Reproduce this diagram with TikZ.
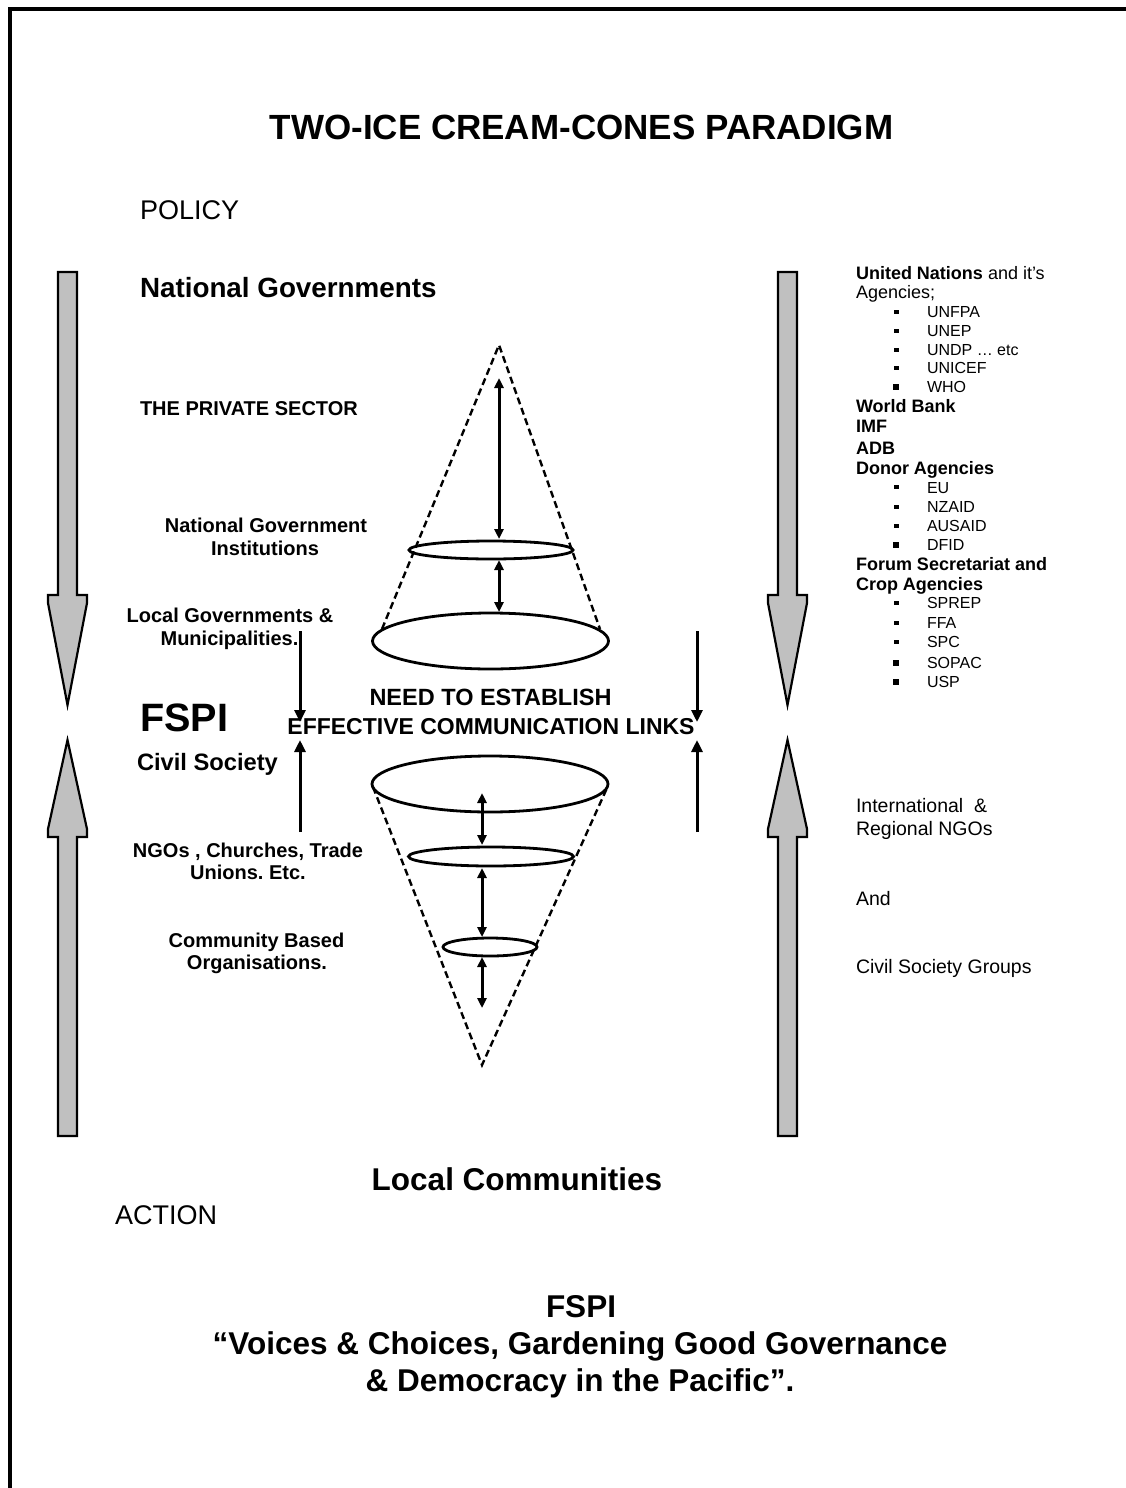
\documentclass[tikz,border=0pt]{standalone}
\usepackage{fontspec}
\setmainfont{Liberation Sans}
\usetikzlibrary{arrows.meta}
\definecolor{arrowgray}{HTML}{C0C0C0}
\frenchspacing

\tikzset{
  txt/.style={inner sep=0pt, outer sep=0pt, anchor=base},
  lbl/.style={txt, font=\fontsize{20}{23}\selectfont\bfseries},
  listbold/.style={txt, anchor=base west, font=\fontsize{18}{20}\selectfont\bfseries},
  listitem/.style={txt, anchor=base west, font=\fontsize{16}{19}\selectfont},
  rightplain/.style={txt, anchor=base west, font=\fontsize{19.5}{22}\selectfont},
  bigarrow/.style={fill=arrowgray, draw=black, line width=2.2pt, line join=miter},
  thinarrow/.style={line width=3pt, -{Triangle[width=11pt,length=12pt]}},
  conearrow/.style={line width=3pt, {Triangle[width=9pt,length=10pt]}-{Triangle[width=9pt,length=10pt]}},
  conedash/.style={line width=2.4pt, dash pattern=on 7pt off 4pt},
  ring/.style={line width=2.8pt},
  bulletsq/.style={fill=black}
}

\begin{document}
\begin{tikzpicture}[x=1pt,y=-1pt]
\useasboundingbox (0,0) rectangle (1126,1488);
\clip (0,0) rectangle (1126,1488);

% page frame (runs past the right and bottom edges)
\draw[line width=3.5pt] (10,9) rectangle (1180,1540);

% ---------- headings ----------
\node[txt, font=\fontsize{35}{40}\selectfont\bfseries] (title) at (581.5,139) {TWO-ICE CREAM-CONES PARADIGM};
\node[txt, anchor=base west, font=\fontsize{27}{30}\selectfont] (policy) at (140,219) {POLICY};
\node[txt, anchor=base west, font=\fontsize{27.8}{32}\selectfont\bfseries] (natgov) at (140,297) {National Governments};

% ---------- left labels ----------
\node[lbl, anchor=base west] (private) at (140,415) {THE PRIVATE SECTOR};
\node[lbl] (ngi1) at (266,532) {National Government};
\node[lbl] (ngi2) at (265,555) {Institutions};
\node[lbl] (lg1) at (230,622) {Local Governments \&};
\node[lbl] (lg2) at (229.5,645) {Municipalities.};
\node[txt, anchor=base west, font=\fontsize{39.6}{44}\selectfont\bfseries] (fspi) at (140,731) {FSPI};
\node[txt, anchor=base west, font=\fontsize{23.7}{27}\selectfont\bfseries] (civil) at (137,770) {Civil Society};
\node[lbl] (ngo1) at (248,857) {NGOs , Churches, Trade};
\node[lbl] (ngo2) at (248,879) {Unions. Etc.};
\node[lbl] (cbo1) at (256.5,947) {Community Based};
\node[lbl] (cbo2) at (257,969) {Organisations.};

% ---------- centre message ----------
\node[txt, font=\fontsize{23.5}{27}\selectfont\bfseries] (need1) at (490.5,705) {NEED TO ESTABLISH};
\node[txt, font=\fontsize{23}{27}\selectfont\bfseries] (need2) at (491,734) {EFFECTIVE COMMUNICATION LINKS};

% ---------- bottom ----------
\node[txt, font=\fontsize{31.5}{36}\selectfont\bfseries] (localcom) at (517,1190) {Local Communities};
\node[txt, anchor=base west, font=\fontsize{27}{30}\selectfont] (action) at (115,1224) {ACTION};
\node[txt, font=\fontsize{31.5}{36}\selectfont\bfseries] (fspi2) at (581,1317) {FSPI};
\node[txt, font=\fontsize{31.5}{36}\selectfont\bfseries] (motto1) at (580,1354) {“Voices \& Choices, Gardening Good Governance};
\node[txt, font=\fontsize{31.5}{36}\selectfont\bfseries] (motto2) at (580,1391) {\& Democracy in the Pacific”.};

% ---------- right-hand list ----------
\node[listbold] (un1) at (856,279) {United Nations \mdseries and it's};
\node[txt, anchor=base west, font=\fontsize{18}{20}\selectfont] (un2) at (856,298) {Agencies;};
\node[listitem] (i1) at (927,317) {UNFPA};
\node[listitem] (i2) at (927,336) {UNEP};
\node[listitem] (i3) at (927,355) {UNDP … etc};
\node[listitem] (i4) at (927,373) {UNICEF};
\node[listitem] (i5) at (927,392) {WHO};
\node[listbold] (wb) at (856,412) {World Bank};
\node[listbold] (imf) at (856,432) {IMF};
\node[listbold] (adb) at (856,454) {ADB};
\node[listbold] (donor) at (856,474) {Donor Agencies};
\node[listitem] (i6) at (927,493) {EU};
\node[listitem] (i7) at (927,512) {NZAID};
\node[listitem] (i8) at (927,531) {AUSAID};
\node[listitem] (i9) at (927,550) {DFID};
\node[listbold] (forum1) at (856,570) {Forum Secretariat and};
\node[listbold] (forum2) at (856,590) {Crop Agencies};
\node[listitem] (i10) at (927,608) {SPREP};
\node[listitem] (i11) at (927,628) {FFA};
\node[listitem] (i12) at (927,647) {SPC};
\node[listitem] (i13) at (927,668) {SOPAC};
\node[listitem] (i14) at (927,687) {USP};

% list bullets
\foreach \yy in {312,331,350,368,487,507,526,603,623,642}
  \fill[bulletsq] (893.5,\yy-2) rectangle ++(5,4);
\foreach \yy in {387,545,663,682}
  \fill[bulletsq] (893,\yy-3) rectangle ++(6,6);

\node[rightplain] (intl1) at (856,812) {International\ \ \&};
\node[rightplain] (intl2) at (856,835) {Regional NGOs};
\node[rightplain] (and) at (856,905) {And};
\node[rightplain] (csg) at (856,973) {Civil Society Groups};

% ---------- big grey arrows ----------
% left, downward
\draw[bigarrow] (58,272) -- (77,272) -- (77,595) -- (87,595) -- (87,603) -- (67.5,705)
  -- (48,603) -- (48,595) -- (58,595) -- cycle;
% left, upward
\draw[bigarrow] (58,1136) -- (77,1136) -- (77,837) -- (87,837) -- (87,829) -- (67.5,740)
  -- (48,829) -- (48,837) -- (58,837) -- cycle;
% right, downward
\draw[bigarrow] (778,272) -- (797,272) -- (797,595) -- (807,595) -- (807,603) -- (787.5,705)
  -- (768,603) -- (768,595) -- (778,595) -- cycle;
% right, upward
\draw[bigarrow] (778,1136) -- (797,1136) -- (797,837) -- (807,837) -- (807,829) -- (787.5,740)
  -- (768,829) -- (768,837) -- (778,837) -- cycle;

% ---------- thin arrows towards the message ----------
\coordinate (ltop) at (300,631);
\coordinate (lmidA) at (300,722);
\coordinate (lbot) at (300,832);
\coordinate (lmidB) at (300,740);
\coordinate (rtop) at (697,631);
\coordinate (rmidA) at (697,722);
\coordinate (rbot) at (697,832);
\coordinate (rmidB) at (697,740);
\draw[thinarrow] (ltop) -- (lmidA);
\draw[thinarrow] (lbot) -- (lmidB);
\draw[thinarrow] (rtop) -- (rmidA);
\draw[thinarrow] (rbot) -- (rmidB);

% ---------- upper cone ----------
\coordinate (uapex) at (499,345);
\coordinate (uleft) at (382,629);
\coordinate (uright) at (600,629);
\draw[conedash] (uleft) -- (uapex) -- (uright);
\draw[ring] (491,550) ellipse [x radius=82, y radius=9];
\draw[ring] (490.5,641) ellipse [x radius=118, y radius=28];
\coordinate (ua1) at (499,378);
\coordinate (ua2) at (499,539);
\coordinate (ua3) at (499,560);
\coordinate (ua4) at (499,612);
\draw[conearrow] (ua1) -- (ua2);
\draw[conearrow] (ua3) -- (ua4);

% ---------- lower cone ----------
\coordinate (lapex) at (482,1065);
\coordinate (lleft) at (373,787);
\coordinate (lright) at (607,788);
\draw[conedash] (lleft) -- (lapex) -- (lright);
\draw[ring] (490,784) ellipse [x radius=118, y radius=28];
\draw[ring] (491,856.5) ellipse [x radius=82.5, y radius=9.5];
\draw[ring] (490,947) ellipse [x radius=47, y radius=9];
\coordinate (la1) at (482,793);
\coordinate (la2) at (482,845);
\coordinate (la3) at (482,868);
\coordinate (la4) at (482,937);
\coordinate (la5) at (482,957);
\coordinate (la6) at (482,1008);
\draw[conearrow] (la1) -- (la2);
\draw[conearrow] (la3) -- (la4);
\draw[conearrow] (la5) -- (la6);

\end{tikzpicture}
\end{document}
